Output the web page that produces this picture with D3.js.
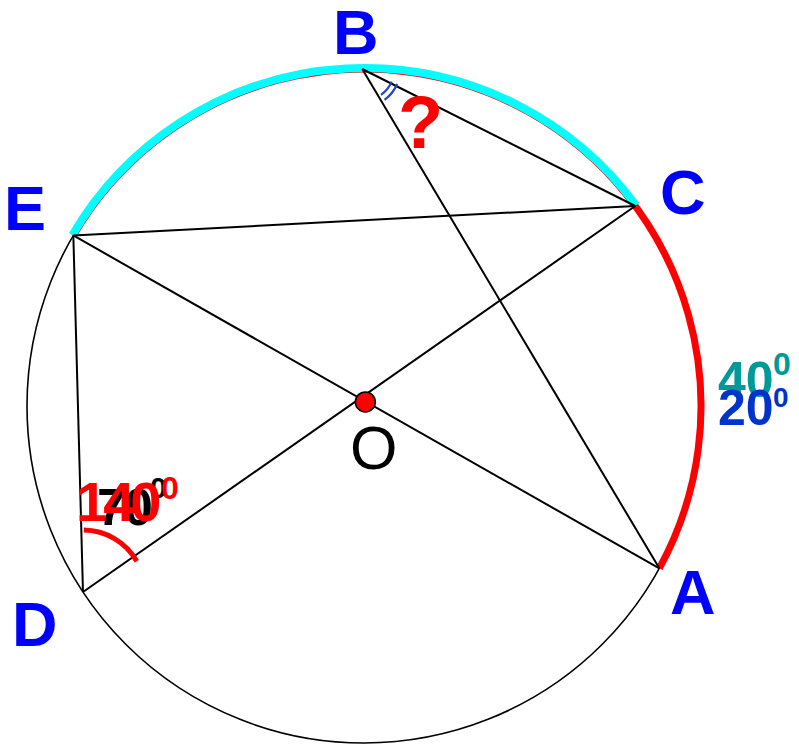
<!DOCTYPE html>
<html>
<head>
<meta charset="utf-8">
<script src="https://cdn.jsdelivr.net/npm/d3@7"></script>
<style>
  body { margin: 0; background: #fff; }
  svg text { font-family: "Liberation Sans", Arial, sans-serif; }
</style>
</head>
<body>
<div id="figure"></div>
<script>
"use strict"

// Points on the circle, given as angles in degrees (counterclockwise from 3 o'clock)
const pointNames = ["A", "B", "C", "D", "E"];
const pointAngles = [-28.8, 90.3, 36.4, 213.5, 149.6];

// Chords drawn between the points
const chords = [["E", "C"], ["E", "A"], ["C", "D"], ["B", "A"], ["B", "C"], ["E", "D"]];

// Highlighted arcs: [from, to], drawn counterclockwise
const redArc = ["A", "E"];
const cyanArc = ["C", "E"];

// Centre dot, in units of the radius (drawn a touch off the true centre, as in the picture)
const centreDot = [0.004, 0.012];

// Angle texts
const angleLabels = ["140", "70", "40", "20"];
const degreeSign = "0";

const figWidth = 799;
const figHeight = 747;
const cx = 364, cy = 406, radius = 337;

const svg = d3.select("#figure").append("svg")
  .attr("width", figWidth)
  .attr("height", figHeight);

// Unit circle -> pixels
const x = d3.scaleLinear().domain([-1, 1]).range([cx - radius, cx + radius]);
const y = d3.scaleLinear().domain([-1, 1]).range([cy + radius, cy - radius]);
const rad = d3.scaleLinear().domain([0, 180]).range([0, Math.PI]);

const pts = {};
pointNames.forEach((n, i) => {
  const a = rad(pointAngles[i]);
  pts[n] = {x: x(Math.cos(a)), y: y(Math.sin(a)), deg: pointAngles[i]};
});

// screen angle (radians, clockwise) from p to q
function dir(p, q) { return Math.atan2(q.y - p.y, q.x - p.x); }

function circleArc(from, to, r) {
  const p = d3.path();
  p.arc(cx, cy, r, -rad(pts[from].deg), -rad(pts[to].deg), true);
  return p.toString();
}

// Circle
svg.append("circle")
  .attr("cx", x(0))
  .attr("cy", y(0))
  .attr("r", x(1) - x(0))
  .attr("fill", "none")
  .attr("stroke", "#000")
  .attr("stroke-width", 1.6);

// Red and cyan arcs
svg.append("path")
  .attr("d", circleArc(redArc[0], redArc[1], radius))
  .attr("fill", "none")
  .attr("stroke", "#ff0000")
  .attr("stroke-width", 7);

svg.append("path")
  .attr("d", circleArc(cyanArc[0], cyanArc[1], radius + 1))
  .attr("fill", "none")
  .attr("stroke", "#00ffff")
  .attr("stroke-width", 8);

// Chords
svg.append("g")
  .selectAll("line")
  .data(chords)
  .enter().append("line")
    .attr("x1", d => pts[d[0]].x)
    .attr("y1", d => pts[d[0]].y)
    .attr("x2", d => pts[d[1]].x)
    .attr("y2", d => pts[d[1]].y)
    .attr("stroke", "#000")
    .attr("stroke-width", 2);

// Angle mark at B (two small blue arcs)
const B = pts.B;
const aBC = dir(B, pts.C), aBA = dir(B, pts.A);
[32, 38].forEach(r => {
  const p = d3.path();
  p.arc(B.x, B.y, r, aBC - 0.06, aBA - 0.09, false);
  svg.append("path")
    .attr("d", p.toString())
    .attr("fill", "none")
    .attr("stroke", "#2244cc")
    .attr("stroke-width", 2.2);
});

// Angle mark at D (red arc)
const D = pts.D;
const dm = d3.path();
dm.arc(D.x, D.y, 62, dir(D, pts.E) + 0.04, dir(D, pts.C) + 0.09, false);
svg.append("path")
  .attr("d", dm.toString())
  .attr("fill", "none")
  .attr("stroke", "#ff0000")
  .attr("stroke-width", 5);

// Centre O
svg.append("circle")
  .attr("cx", x(centreDot[0]))
  .attr("cy", y(centreDot[1]))
  .attr("r", 10)
  .attr("fill", "#ff0000")
  .attr("stroke", "#000")
  .attr("stroke-width", 1.5);

// Point labels
const labelPos = {A: [670, 614], B: [333, 54], C: [660, 214], D: [12, 646], E: [4, 230]};
svg.append("g")
  .selectAll("text")
  .data(pointNames)
  .enter().append("text")
    .attr("x", d => labelPos[d][0])
    .attr("y", d => labelPos[d][1])
    .attr("fill", "#0000ff")
    .attr("font-size", 63)
    .attr("font-weight", "bold")
    .text(d => d);

svg.append("text")
  .attr("x", 350)
  .attr("y", 469)
  .attr("font-size", 61)
  .attr("fill", "#000")
  .text("O");

svg.append("text")
  .attr("x", 398)
  .attr("y", 148)
  .attr("font-size", 74)
  .attr("font-weight", "bold")
  .attr("fill", "#ff0000")
  .text("?");

// Angle values
function degText(txt, xPos, yPos, size, supX, supY, supSize, color, spacing) {
  svg.append("text")
    .attr("x", xPos)
    .attr("y", yPos)
    .attr("font-size", size)
    .attr("font-weight", "bold")
    .attr("letter-spacing", spacing)
    .attr("fill", color)
    .text(txt);
  svg.append("text")
    .attr("x", supX)
    .attr("y", supY)
    .attr("font-size", supSize)
    .attr("font-weight", "bold")
    .attr("fill", color)
    .text(degreeSign);
}

degText(angleLabels[1], 97, 525, 52, 150, 498, 30, "#000", -2);
degText(angleLabels[0], 76, 521, 56, 161, 499, 32, "#ff0000", -4);
degText(angleLabels[2], 718, 397, 50, 773, 375, 32, "#009999", 0);
degText(angleLabels[3], 718, 425, 50, 773, 407, 28, "#0033cc", 0);
</script>
</body>
</html>
